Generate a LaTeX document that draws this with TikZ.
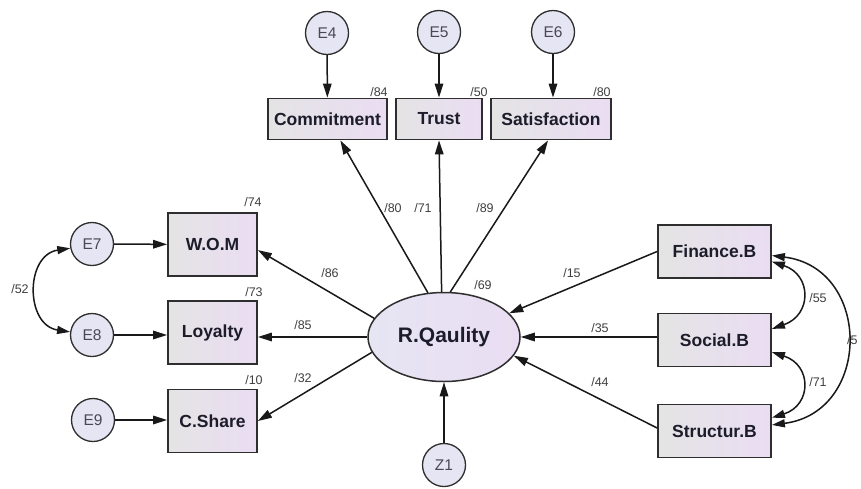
\documentclass[tikz,border=0pt]{standalone}
\usepackage{fontspec}
\setmainfont{Liberation Sans}
\usetikzlibrary{shapes.geometric,arrows.meta,calc}
\definecolor{boxL}{HTML}{E4E4E4}
\definecolor{boxR}{HTML}{EADDF3}
\definecolor{circF}{HTML}{E6E5F3}
\definecolor{edgeC}{HTML}{2E2E2E}
\definecolor{txtC}{HTML}{1C1C2A}
\begin{document}
\begin{tikzpicture}[x=1pt,y=-1pt,
  obs/.style={draw=edgeC,line width=1.8pt,left color=boxL,right color=boxR,
    font=\fontsize{17.5}{19}\selectfont\bfseries,text=txtC,inner sep=0pt},
  err/.style={circle,draw=edgeC,line width=1.3pt,fill=circF,minimum size=43pt,
    inner sep=0pt,font=\fontsize{15.5}{17}\selectfont,text=txtC!80},
  lat/.style={ellipse,draw=edgeC,line width=1.5pt,left color=circF,right color=boxR,
    minimum width=152pt,minimum height=89pt,inner sep=0pt,
    font=\fontsize{21}{23}\selectfont\bfseries,text=txtC},
  lbl/.style={font=\fontsize{12.5}{13}\selectfont,text=black!75,inner sep=0pt},
  arr/.style={draw=black!90,line width=1.5pt,-{Triangle[length=14pt,width=8.5pt]}},
  cov/.style={draw=black!90,line width=1.5pt,{Triangle[length=13pt,width=8pt]}-{Triangle[length=13pt,width=8pt]}}
]
\useasboundingbox (0,0) rectangle (861,488);
\fill[white] (0,0) rectangle (861,488);

% top indicators
\node[err] (E4) at (327,33) {E4};
\node[err] (E5) at (439,32) {E5};
\node[err] (E6) at (553,32) {E6};
\node[obs,minimum width=119pt,minimum height=41pt] (Com) at (327.5,119) {Commitment};
\node[obs,minimum width=86pt,minimum height=41pt] (Tru) at (439,119) {Trust};
\node[obs,minimum width=120pt,minimum height=41pt] (Sat) at (551,119) {Satisfaction};

% left indicators
\node[obs,minimum width=89pt,minimum height=63pt] (WOM) at (212.5,244.5) {W.O.M};
\node[obs,minimum width=89pt,minimum height=63pt] (Loy) at (212.5,332.5) {Loyalty};
\node[obs,minimum width=89pt,minimum height=63pt] (CSh) at (212.5,421) {C.Share};
\node[err] (E7) at (92,244) {E7};
\node[err] (E8) at (92,335) {E8};
\node[err] (E9) at (93,420) {E9};

% latent
\node[lat] (RQ) at (444,337) {R.Qaulity};
\node[err] (Z1) at (444,465) {Z1};

% right exogenous
\node[obs,minimum width=113pt,minimum height=53pt] (Fin) at (714.5,251.5) {Finance.B};
\node[obs,minimum width=113pt,minimum height=53pt] (Soc) at (714.5,340) {Social.B};
\node[obs,minimum width=113pt,minimum height=53pt] (Str) at (714.5,431) {Structur.B};

% error arrows
\draw[arr] (E4) -- (Com);
\draw[arr] (E5) -- (Tru);
\draw[arr] (E6) -- (Sat.north -| E6);
\draw[arr] (E7) -- (WOM);
\draw[arr] (E8) -- (Loy.west |- E8);
\draw[arr] (E9) -- (CSh.west |- E9);
\draw[arr] (Z1) -- (RQ);

% loadings
\draw[arr] (RQ.110) -- (Com.-59);
\draw[arr] (RQ.93) -- (Tru.south);
\draw[arr] (RQ.82) -- (Sat.-98);
\draw[arr] (RQ.165) -- (WOM.-7);
\draw[arr] (RQ.west) -- (Loy.east |- RQ.west);
\draw[arr] (RQ.192) -- (CSh.east);

% structural
\draw[arr] (Fin.west) -- (RQ.20);
\draw[arr] (RQ.east -| Soc.west) -- (RQ.east);
\draw[arr] ([yshift=3pt]Str.west) -- (RQ.-15);

% covariances
\draw[cov] (E7.191) .. controls (25,255) and (25,325) .. (E8.172);
\draw[cov] (Fin.-10) .. controls (812,275) and (812,315) .. (Soc.11);
\draw[cov] (Soc.-12) .. controls (812,365) and (812,405) .. (Str.13);
\draw[cov] (Fin.-4) .. controls (872,268) and (872,412) .. (Str.6);

% labels
\node[lbl] (l84) at (379,92) {/84};
\node[lbl] (l50) at (479,92) {/50};
\node[lbl] (l80a) at (602,92) {/80};
\node[lbl] (l74) at (253,202) {/74};
\node[lbl] (l73) at (254,292) {/73};
\node[lbl] (l10) at (254,380) {/10};
\node[lbl] (l52) at (20,289) {/52};
\node[lbl] (l80) at (393,208) {/80};
\node[lbl] (l71a) at (423,208) {/71};
\node[lbl] (l89) at (485,208) {/89};
\node[lbl] (l86) at (330,273) {/86};
\node[lbl] (l69) at (483,285) {/69};
\node[lbl] (l85) at (303,325) {/85};
\node[lbl] (l32) at (303,378) {/32};
\node[lbl] (l15) at (572,273) {/15};
\node[lbl] (l35) at (600,328) {/35};
\node[lbl] (l44) at (600,382) {/44};
\node[lbl] (l55) at (818,298) {/55};
\node[lbl] (l71b) at (818,382) {/71};
\node[lbl,anchor=west] (l5) at (847,340) {/5};
\end{tikzpicture}
\end{document}
